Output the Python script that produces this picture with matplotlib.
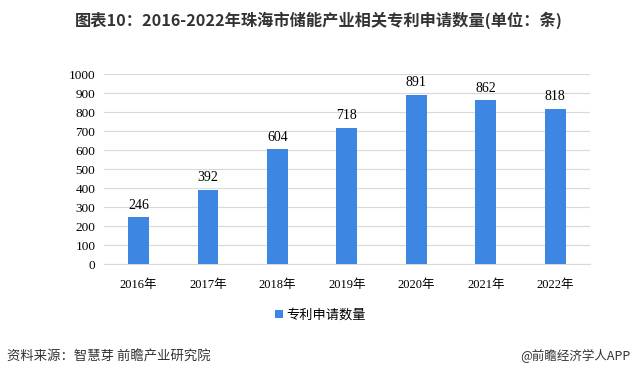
import matplotlib.pyplot as plt
import numpy as np

plt.rcParams['font.family'] = ['Noto Sans CJK SC', 'DejaVu Sans']

years = ["2016年", "2017年", "2018年", "2019年", "2020年", "2021年", "2022年"]
counts = [246, 392, 604, 718, 891, 862, 818]
series_name = "专利申请数量"
bar_color = "#3D86E1"

fig = plt.figure(figsize=(6.37, 3.79), dpi=100)
ax = fig.add_axes([0.163, 0.3034, 0.763, 0.5013])

x = np.arange(len(years))
bars = ax.bar(x, counts, width=0.3, color=bar_color, label=series_name, zorder=3)
for b, v in zip(bars, counts):
    ax.text(b.get_x() + b.get_width() / 2, v + 30, str(v), ha="center", va="bottom",
            fontsize=10, family=['Liberation Serif', 'Noto Sans CJK SC'])

ax.set_ylim(0, 1000)
ax.set_yticks(range(0, 1001, 100))
ax.set_xlim(-0.5, len(years) - 0.5)
ax.set_xticks(x)
ax.set_xticklabels(years, fontsize=9, family=['Liberation Serif', 'Noto Sans CJK SC'])
for lab in ax.get_yticklabels():
    lab.set_family(['Liberation Serif'])
    lab.set_fontsize(9.5)
ax.grid(axis="y", color="#d9d9d9", linewidth=0.8, zorder=0)
for s in ["top", "right", "left"]:
    ax.spines[s].set_visible(False)
ax.spines["bottom"].set_color("#d9d9d9")
ax.tick_params(length=0, pad=6)
ax.tick_params(axis="x", pad=11)

fig.legend(handles=[bars], labels=[series_name], loc="center", bbox_to_anchor=(0.503, 0.168),
           frameon=False, fontsize=9.5, handlelength=0.6, handleheight=0.6, handletextpad=0.2)

fig.text(0.5, 0.947, "图表10：2016-2022年珠海市储能产业相关专利申请数量(单位：条)",
         ha="center", va="center", fontsize=11.7, fontweight="bold", color="#333333")
fig.text(0.011, 0.06, "资料来源：智慧芽 前瞻产业研究院", ha="left", va="center",
         fontsize=9.6, color="#333333")
fig.text(0.99, 0.06, "@前瞻经济学人APP", ha="right", va="center",
         fontsize=9, color="#333333")

fig.savefig("out.png", dpi=100)
